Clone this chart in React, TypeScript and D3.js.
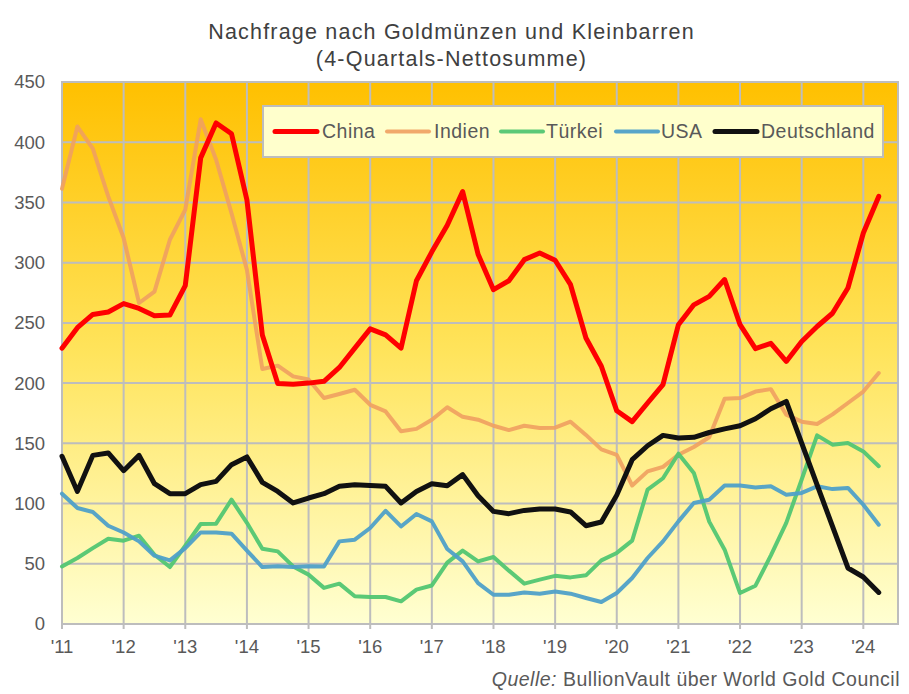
import React from "react";
import * as d3 from "d3";

const yearLabels = ["'11","'12","'13","'14","'15","'16","'17","'18","'19","'20","'21","'22","'23","'24"];
const yTicks = [0, 50, 100, 150, 200, 250, 300, 350, 400, 450];

const china = [229,246,257,259,266,262,256,256.5,281,387,416,407,352,240,199.6,199,200,201.5,213,229,245,240,229,285,309,331,359,307,277.6,285,302.5,308,302,281.7,237.5,214,177,168,183.5,198.7,248.5,265,272,286,248.5,228.6,233,218,234.6,247,258,279,324.6,355];
const indien = [361.4,413,394.6,355,320.5,266.5,276,319,344,419,385.5,341,294,211.7,214.5,205.6,203,187.6,191,194.5,182,176.5,160,162,169.6,180,172,169.6,164.6,161,164.6,162.7,163,168,157,145,140.5,115,126.7,130.4,140.5,147,155,187,187.6,193,195,173.8,168,166,174,183.5,193,208.4];
const tuerkei = [47.8,54.8,63,70.8,69.2,73.3,57.5,47.3,65,83,83.3,103.2,84,62.5,60.3,47.8,41,30,33.5,23,22.4,22.4,18.8,28.5,32,51,60.9,52,55.6,44.3,33.5,36.8,40,38.7,40.4,52.8,59,69.2,111.5,121,141.4,125.4,85,61.7,25.7,31.8,57,84,120,156.6,148.9,150.3,143.3,131];
const usa = [108.2,96.3,93,81.6,76,68.6,56.7,52.8,63,76,76,75,61,47.3,48,47.3,48,47.8,68.6,70,79.7,94,81,91.3,85.2,62.3,52,34,24.3,24.3,26.2,25.2,27,25.2,21.6,18.3,25.7,38.2,54.8,68.6,85.2,100.5,103.2,115,115,113.4,114.3,107.4,108.8,114.3,112,113,99,82.4];
const deutschland = [139.2,110.1,140,142,127.3,140,116.5,108.2,108.2,115.7,118.4,132.3,138.7,117.6,110.1,100.5,104.6,108.2,114.3,115.7,115,114.3,100.5,110.1,116.5,114.8,124,106.5,93.5,91.6,94.3,95.5,95.5,93,81.6,84.7,107,136.4,148,156.6,154.4,155,159,162,164.6,170.4,178.7,184.8,150.2,115.6,81,46.5,39,26.2];

const seriesNames = ["China", "Indien", "Türkei", "USA", "Deutschland"];
const seriesData = [china, indien, tuerkei, usa, deutschland];
const seriesColors = ["#FF0000", "#F0A060", "#52C672", "#4FA0C8", "#111111"];
const seriesWidths = [5, 4, 4, 4, 5];
const seriesOpacity = [1, 0.9, 0.95, 0.95, 1];
const drawOrder = [1, 2, 3, 4, 0];

const W = 909, H = 694;
const L = 62, R = 898, T = 82, B = 624;
const FONT = "'Liberation Sans', Arial, sans-serif";
const TXT = "#595959";

export default function App() {
  const x = d3.scaleLinear().domain([0, 54.25]).range([L, R]);
  const y = d3.scaleLinear().domain([0, 450]).range([B, T]);
  const line = d3.line<number>().x((_, i) => x(i)).y(d => y(d));

  const legendItems = [
    { lx: 275, tx: 322 },
    { lx: 387, tx: 434 },
    { lx: 501, tx: 546 },
    { lx: 616, tx: 661 },
    { lx: 715, tx: 761 },
  ];

  return (
    <svg width={W} height={H} style={{ position: "absolute", left: 0, top: 0, background: "#fff" }} fontFamily={FONT}>
      <defs>
        <linearGradient id="bg" x1="0" y1="0" x2="0" y2="1">
          <stop offset="0%" stopColor="#FFC000" />
          <stop offset="50%" stopColor="#FFE45C" />
          <stop offset="100%" stopColor="#FFFFD2" />
        </linearGradient>
      </defs>
      <text x={451.5} y={39} textAnchor="middle" fontSize={21.5} letterSpacing={1.2} fill="#404040">Nachfrage nach Goldmünzen und Kleinbarren</text>
      <text x={451.5} y={66} textAnchor="middle" fontSize={21.5} letterSpacing={1.2} fill="#404040">(4-Quartals-Nettosumme)</text>

      <rect x={L} y={T} width={R - L} height={B - T} fill="url(#bg)" />
      {yTicks.map(t => (
        <line key={"h" + t} x1={L} x2={R} y1={y(t)} y2={y(t)} stroke="#BDBDBD" strokeWidth={2} />
      ))}
      {yearLabels.map((_, k) => (
        <line key={"v" + k} x1={x(k * 4)} x2={x(k * 4)} y1={T} y2={B} stroke="#BDBDBD" strokeWidth={2} />
      ))}
      <rect x={L} y={T} width={R - L} height={B - T} fill="none" stroke="#BDBDBD" strokeWidth={2} />
      {yearLabels.map((_, k) => (
        <line key={"t" + k} x1={x(k * 4)} x2={x(k * 4)} y1={B} y2={B + 5} stroke="#BDBDBD" strokeWidth={2} />
      ))}

      {yTicks.map(t => (
        <text key={"yl" + t} x={45} y={y(t)} dy="0.35em" textAnchor="end" fontSize={18.5} fill={TXT}>{t}</text>
      ))}
      {yearLabels.map((lab, k) => (
        <text key={"xl" + k} x={x(k * 4)} y={653} textAnchor="middle" fontSize={18.5} fill={TXT}>{lab}</text>
      ))}

      {drawOrder.map(si => (
        <path key={"s" + si} d={line(seriesData[si]) || ""} fill="none" stroke={seriesColors[si]}
          strokeWidth={seriesWidths[si]} strokeOpacity={seriesOpacity[si]} strokeLinejoin="round" strokeLinecap="round" />
      ))}

      <rect x={263} y={106} width={620} height={51} fill="#FFFFCC" stroke="#BDBDBD" strokeWidth={2} />
      {legendItems.map((it, i) => (
        <g key={"lg" + i}>
          <line x1={it.lx} x2={it.lx + 42} y1={131.5} y2={131.5} stroke={seriesColors[i]} strokeWidth={seriesWidths[i]} strokeLinecap="round" strokeOpacity={seriesOpacity[i]} />
          <text x={it.tx} y={131.5} dy="0.35em" fontSize={19.5} letterSpacing={0.5} fill={TXT}>{seriesNames[i]}</text>
        </g>
      ))}

      <text x={900} y={686} textAnchor="end" fontSize={19.5} letterSpacing={0.5} fill={TXT}>
        <tspan fontStyle="italic">Quelle:</tspan>
        <tspan> BullionVault  über World Gold Council</tspan>
      </text>
    </svg>
  );
}
